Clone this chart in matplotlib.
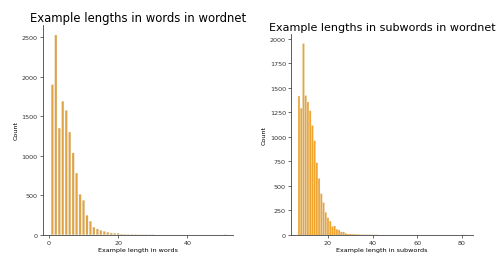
import matplotlib
matplotlib.use("Agg")
import matplotlib.pyplot as plt

# Left: example lengths in words
word_lengths = list(range(1, 31)) + [51]
word_counts = [1900, 2530, 1350, 1690, 1575, 1300, 1035, 780, 510, 435,
               245, 170, 95, 72, 55, 42, 30, 21, 17, 17,
               6, 5, 3, 3, 3, 2, 1, 2, 1, 1, 1]

# Right: example lengths in subwords
sub_lengths = list(range(7, 43)) + [81]
sub_counts = [1415, 1290, 1950, 1420, 1355, 1265, 1115, 960, 735, 575,
              420, 330, 230, 175, 140, 85, 92, 58, 51, 31,
              31, 17, 10, 10, 8, 8, 5, 5, 3, 3,
              2, 2, 2, 1, 1, 1, 1]

left_title = "Example lengths in words in wordnet"
right_title = "Example lengths in subwords in wordnet"
left_xlabel = "Example length in words"
right_xlabel = "Example length in subwords"
left_yticks = [0, 500, 1000, 1500, 2000, 2500]
right_yticks = [0, 250, 500, 750, 1000, 1250, 1500, 1750, 2000]
left_xticks = [0, 20, 40]
right_xticks = [20, 40, 60, 80]

fig = plt.figure(figsize=(4.97, 2.55), dpi=100)
axL = fig.add_axes([0.0859, 0.0757, 0.3829, 0.822])
axR = fig.add_axes([0.585, 0.0745, 0.367, 0.788])

def style(ax, title, xlabel, yticks, xticks, tsize):
    ax.set_title(title, fontsize=tsize, pad=3)
    ax.set_xlabel(xlabel, fontsize=4.6, labelpad=1.5)
    ax.set_ylabel("Count", fontsize=4.6, labelpad=2)
    ax.set_yticks(yticks)
    ax.set_xticks(xticks)
    ax.tick_params(labelsize=4.6, length=2, width=0.5, pad=1.5, colors="#333333")
    for s in ["top", "right"]:
        ax.spines[s].set_visible(False)
    for s in ["left", "bottom"]:
        ax.spines[s].set_linewidth(0.6)
        ax.spines[s].set_color("#444444")

barsL = axL.bar(word_lengths, word_counts, width=0.62, color="#e0a445",
                edgecolor=(0.82, 0.78, 0.72, 0.6), linewidth=0.2)
axL.set_xlim(-1.8, 53.2)
axL.set_ylim(0, max(word_counts) * 1.05)
style(axL, left_title, left_xlabel, left_yticks, left_xticks, 8.4)

barsR = axR.bar(sub_lengths, sub_counts, width=0.8, color="#f0a42c",
                edgecolor=(0.82, 0.78, 0.72, 0.6), linewidth=0.2)
for b in list(barsL) + list(barsR):
    b.set_snap(False)
axR.set_xlim(3.3, 85.1)
axR.set_ylim(0, max(sub_counts) * 1.05)
style(axR, right_title, right_xlabel, right_yticks, right_xticks, 8.0)

fig.savefig("out.png", dpi=100)
